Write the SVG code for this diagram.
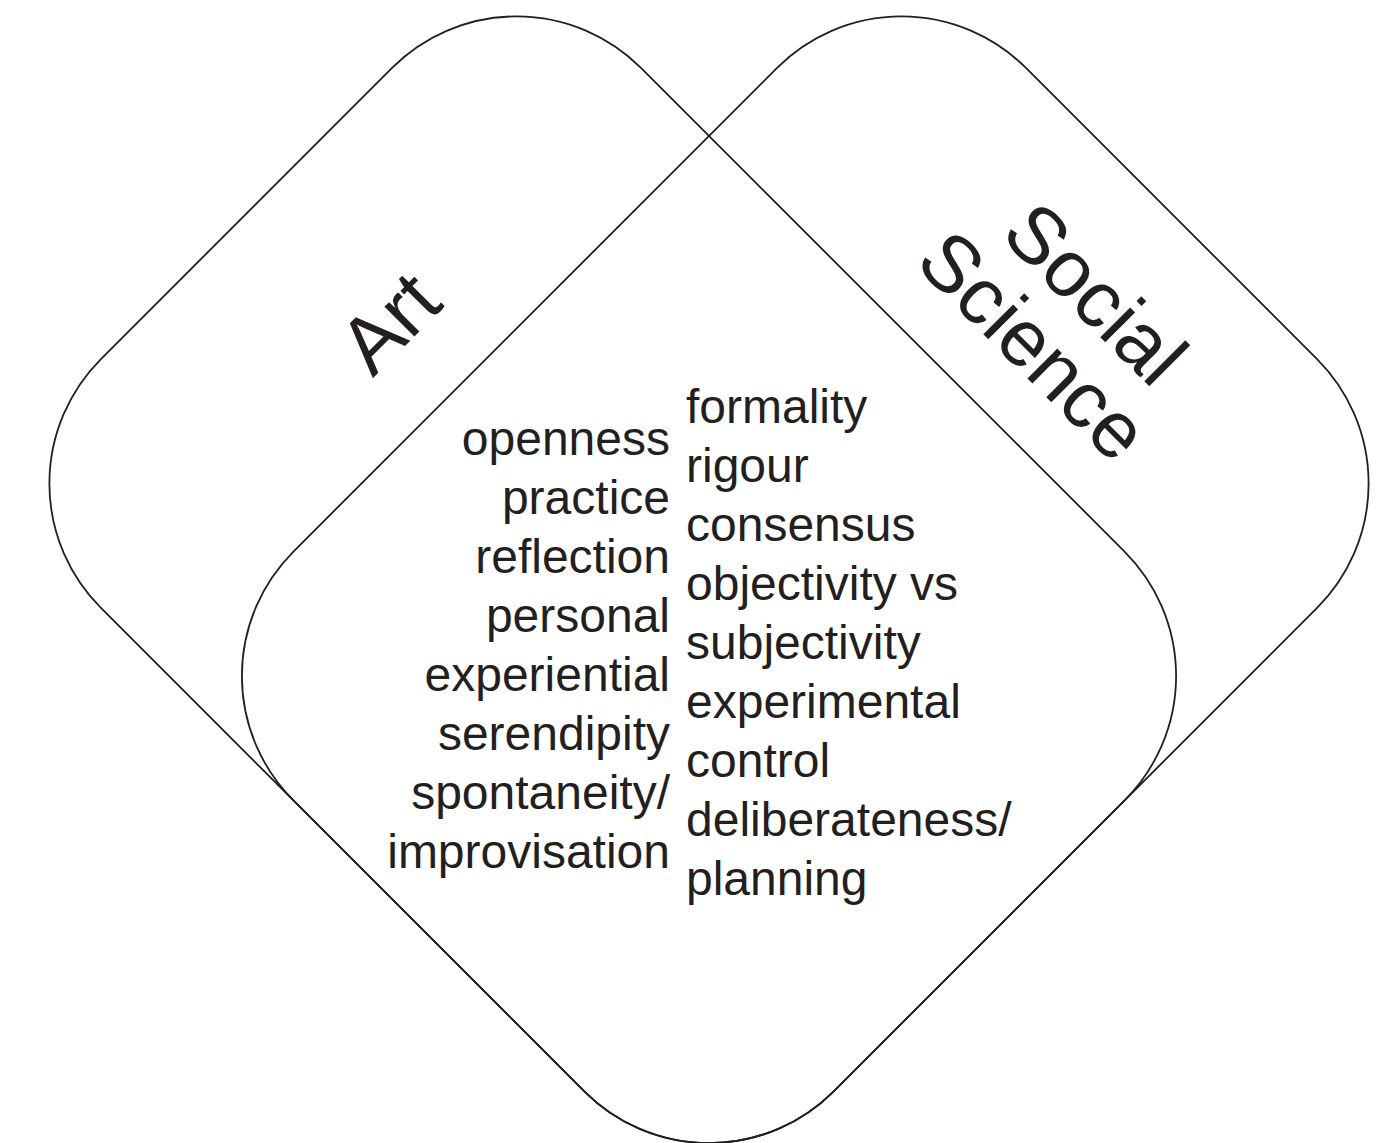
<svg xmlns="http://www.w3.org/2000/svg" width="1393" height="1143" viewBox="0 0 1393 1143">
<style>
.shape{fill:none;stroke:#231f20;stroke-width:1.8}
.item{font-family:"Liberation Sans",Arial,Helvetica,sans-serif;font-size:48px;fill:#231f20}
.title{font-family:"Liberation Sans",Arial,Helvetica,sans-serif;font-size:80px;fill:#231f20;text-anchor:middle}
.left{text-anchor:end}
</style>
<rect width="1393" height="1143" fill="#ffffff"/>
<g id="art">
<rect class="shape" x="94.8" y="197.9" width="1035.9" height="763.7" rx="176" ry="176" transform="rotate(45 612.75 579.75)"/>
<text class="title" x="409" y="342" transform="rotate(-45 409 342)">Art</text>
</g>
<g id="social-science">
<rect class="shape" x="423.4" y="61.8" width="763.7" height="1035.9" rx="176" ry="176" transform="rotate(45 805.25 579.75)"/>
<text class="title" x="1076" y="313" transform="rotate(45 1076 313)">Social</text>
<text class="title" x="1014" y="365" transform="rotate(45 1014 365)">Science</text>
</g>
<g id="art-items" class="item left">
<text class="item left" x="670" y="455">openness</text>
<text class="item left" x="670" y="514">practice</text>
<text class="item left" x="670" y="573">reflection</text>
<text class="item left" x="670" y="632">personal</text>
<text class="item left" x="670" y="691">experiential</text>
<text class="item left" x="670" y="750">serendipity</text>
<text class="item left" x="670" y="809">spontaneity/</text>
<text class="item left" x="670" y="868">improvisation</text>
</g>
<g id="science-items">
<text class="item" x="686" y="423">formality</text>
<text class="item" x="686" y="482">rigour</text>
<text class="item" x="686" y="541">consensus</text>
<text class="item" x="686" y="600">objectivity vs</text>
<text class="item" x="686" y="659">subjectivity</text>
<text class="item" x="686" y="718">experimental</text>
<text class="item" x="686" y="777">control</text>
<text class="item" x="686" y="836">deliberateness/</text>
<text class="item" x="686" y="895">planning</text>
</g>
</svg>
